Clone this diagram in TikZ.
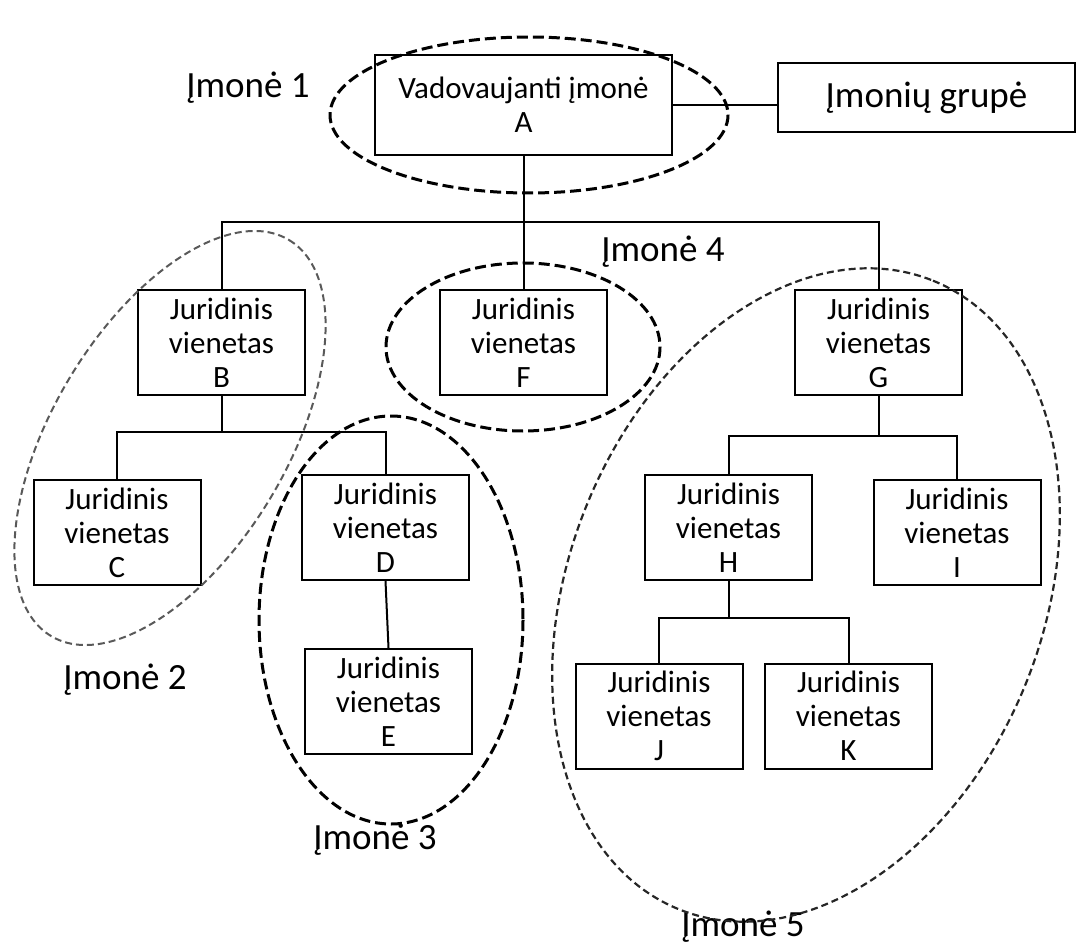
\documentclass[tikz,border=0pt]{standalone}
\usepackage{fontspec}
\setmainfont{Carlito}
\begin{document}
\begin{tikzpicture}[x=0.5pt,y=-0.5pt,
  box/.style={draw, line width=1pt, inner sep=0pt, align=center, font=\fontsize{15.5}{17}\selectfont},
  ubox/.style={box, minimum width=83.5pt, minimum height=52.5pt},
  lbl/.style={font=\fontsize{18.5}{22}\selectfont, inner sep=0pt},
  con/.style={line width=1pt},
  ringA/.style={line width=1.5pt, dash pattern=on 5.5pt off 2.5pt},
  ringB/.style={line width=1pt, draw=black!65, dash pattern=on 3.5pt off 2pt},
  ringC/.style={line width=1.1pt, draw=black!85, dash pattern=on 3.5pt off 2pt}]
\useasboundingbox (0,0) rectangle (1080,946);

% boxes
\node[box, minimum width=148.5pt, minimum height=50pt] (A) at (523.5,105) {Vadovaujanti įmonė\\A};
\node[box, minimum width=148.5pt, minimum height=34.5pt, font=\fontsize{18.5}{22}\selectfont] (grp) at (926.5,97.5) {Įmonių grupė};
\node[ubox] (B) at (221.5,342.5) {Juridinis\\vienetas\\B};
\node[ubox] (F) at (523.5,342.5) {Juridinis\\vienetas\\F};
\node[ubox] (G) at (878.5,342.5) {Juridinis\\vienetas\\G};
\node[ubox] (C) at (117,532.5) {Juridinis\\vienetas\\C};
\node[ubox] (D) at (385.5,527.5) {Juridinis\\vienetas\\D};
\node[ubox] (E) at (388.5,701.5) {Juridinis\\vienetas\\E};
\node[ubox] (H) at (728.5,527.5) {Juridinis\\vienetas\\H};
\node[ubox] (I) at (957,532.5) {Juridinis\\vienetas\\I};
\node[ubox] (J) at (659,716) {Juridinis\\vienetas\\J};
\node[ubox] (K) at (848.5,716) {Juridinis\\vienetas\\K};

% labels
\node[lbl] (l1) at (248,88) {Įmonė 1};
\node[lbl] (l2) at (125,680) {Įmonė 2};
\node[lbl] (l3) at (375,840) {Įmonė 3};
\node[lbl] (l4) at (663,252) {Įmonė 4};
\node[lbl] (l5) at (743,927) {Įmonė 5};

% connectors
\coordinate (busA) at (523.5,222);
\coordinate (busB) at (221.5,432);
\coordinate (busG) at (878.5,436);
\coordinate (busH) at (728.5,618);
\draw[con] (A.east) -- (A.east -| grp.west);
\draw[con] (A.south) -- (F.north);
\draw[con] (B.north) |- (busA) -| (G.north);
\draw[con] (B.south) -- (busB);
\draw[con] (C.north) |- (busB) -| (D.north);
\draw[con] (D.south) -- (E.north);
\draw[con] (G.south) -- (busG);
\draw[con] (H.north) |- (busG) -| (I.north);
\draw[con] (H.south) -- (busH);
\draw[con] (J.north) |- (busH) -| (K.north);

% rings
\draw[ringA] (529,115) ellipse [x radius=199, y radius=78];
\draw[ringA] (523,347) ellipse [x radius=137, y radius=84];
\draw[ringA] (391,620) ellipse [x radius=132, y radius=204];
\draw[ringB, rotate around={59:(170,438)}] (170,438) ellipse [x radius=231, y radius=117];
\draw[ringC, rotate around={68:(806,595)}] (806,595) ellipse [x radius=339, y radius=237];
\end{tikzpicture}
\end{document}
